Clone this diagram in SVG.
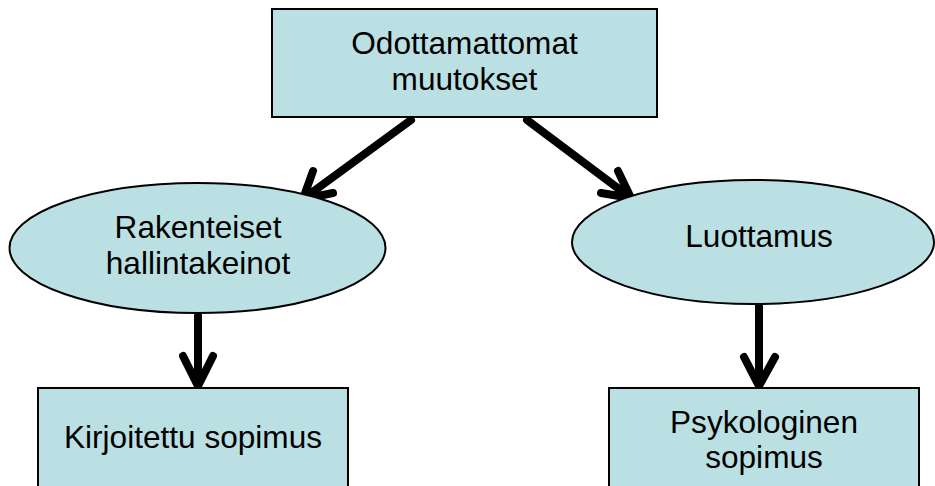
<svg xmlns="http://www.w3.org/2000/svg" width="935" height="486" viewBox="0 0 935 486">
  <style>
    .node { fill: #BBE0E3; stroke: #000; stroke-width: 2; }
    .label { font-family: "Liberation Sans", Arial, sans-serif; font-size: 31.6px; fill: #000; text-anchor: middle; }
    .conn { fill: none; stroke: #000; stroke-width: 8; stroke-linecap: round; stroke-linejoin: miter; }
  </style>
  <rect width="935" height="486" fill="#fff"/>

  <g id="connectors">
    <path class="conn" d="M411,120 L303,199 M313,171 L303,199 L333,193"/>
    <path class="conn" d="M527,120 L631,198 M618,171 L631,198 L601,193"/>
    <path class="conn" d="M198,316 L198,386 M183,356 L198,386 L213,356"/>
    <path class="conn" d="M759,306 L759,386 M744,357 L759,386 L775,357"/>
  </g>

  <g id="odottamattomat-muutokset">
    <rect class="node" x="272" y="9" width="385" height="108"/>
    <text class="label" x="464.5" y="54">Odottamattomat</text>
    <text class="label" x="464.5" y="90">muutokset</text>
  </g>

  <g id="rakenteiset-hallintakeinot">
    <ellipse class="node" cx="197.5" cy="248" rx="188" ry="65" stroke-width="1.5"/>
    <text class="label" x="198" y="238">Rakenteiset</text>
    <text class="label" x="198" y="274">hallintakeinot</text>
  </g>

  <g id="luottamus">
    <ellipse class="node" cx="753" cy="242" rx="181" ry="62" stroke-width="1.5"/>
    <text class="label" x="759" y="247">Luottamus</text>
  </g>

  <g id="kirjoitettu-sopimus">
    <rect class="node" x="38" y="388" width="310" height="110"/>
    <text class="label" x="193" y="448">Kirjoitettu sopimus</text>
  </g>

  <g id="psykologinen-sopimus">
    <rect class="node" x="609" y="388" width="310" height="110"/>
    <text class="label" x="764" y="433">Psykologinen</text>
    <text class="label" x="764" y="468">sopimus</text>
  </g>
</svg>
